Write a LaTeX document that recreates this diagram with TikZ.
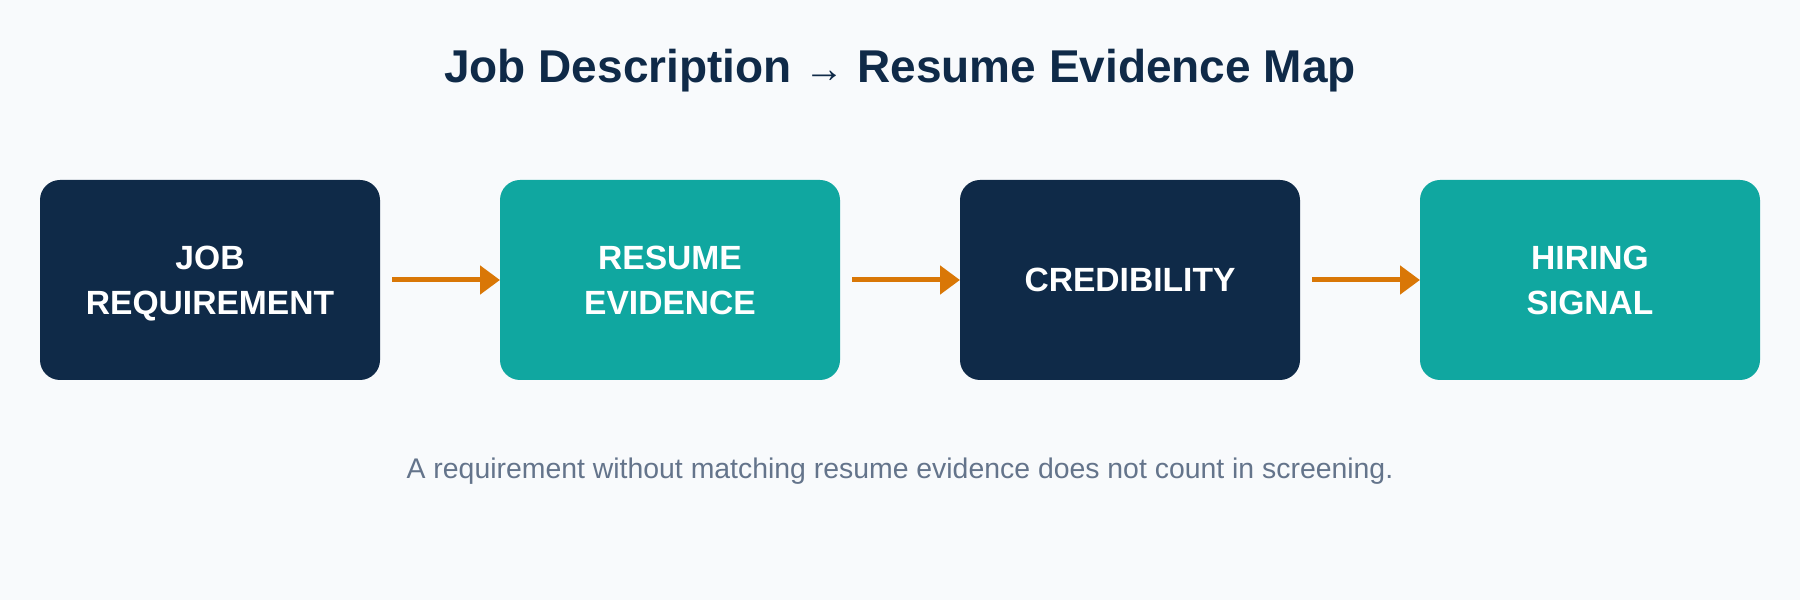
\documentclass[tikz,border=0pt]{standalone}
\usepackage{fontspec}
\setmainfont{Liberation Sans}
\usetikzlibrary{arrows.meta,positioning}
\definecolor{pagebg}{HTML}{F8FAFC}
\definecolor{navy}{HTML}{0F2A48}
\definecolor{teal}{HTML}{10A7A0}
\definecolor{amber}{HTML}{D97706}
\definecolor{slate}{HTML}{64748B}

\begin{document}
\begin{tikzpicture}[>={Triangle[length=10pt,width=14pt]},shorten <=6pt,
  node distance=60pt,line width=2.5pt,
  main node/.style={rounded corners=10pt,minimum width=170pt,minimum height=100pt,
    inner sep=0pt,outer sep=0pt,align=center,text=white,text depth=0pt,
    font=\fontsize{16.8}{22.5}\selectfont\bfseries},
  dark node/.style={main node,fill=navy},
  light node/.style={main node,fill=teal}]

  \fill[pagebg] (0pt,0pt) rectangle (900pt,300pt);
  \useasboundingbox (0pt,0pt) rectangle (900pt,300pt);

  \node[anchor=base,text=navy,font=\fontsize{23}{27}\selectfont\bfseries] (title)
    at (450pt,258.5pt) {Job Description \textmd{\fontsize{20}{24}\selectfont→} Resume Evidence Map};

  \node[dark node] (job) at (105pt,160pt)
    {JOB\\REQUIREMENT};
  \node[light node] (resume) [right = of job]
    {RESUME\\EVIDENCE};
  \node[dark node] (cred) [right = of resume]
    {CREDIBILITY};
  \node[light node] (hiring) [right = of cred]
    {HIRING\\SIGNAL};

  \node[anchor=base,text=slate,font=\fontsize{14.2}{17}\selectfont] (note)
    at (450pt,60.5pt) {A requirement without matching resume evidence does not count in screening.};

  \path[->,color=amber]
    (job) edge (resume)
    (resume) edge (cred)
    (cred) edge (hiring);

\end{tikzpicture}
\end{document}
